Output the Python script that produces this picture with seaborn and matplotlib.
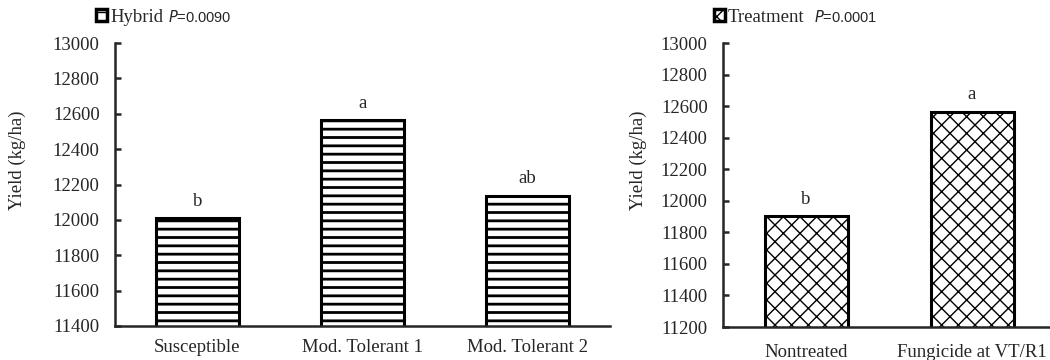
import matplotlib
matplotlib.use("Agg")
import matplotlib.pyplot as plt
from matplotlib.patches import Patch
import seaborn as sns
import pandas as pd

# data
hybrids = ["Susceptible", "Mod. Tolerant 1", "Mod. Tolerant 2"]
hybrid_yield = [12010, 12563, 12137]
hybrid_letters = ["b", "a", "ab"]

treatments = ["Nontreated", "Fungicide at VT/R1"]
treatment_yield = [11903, 12564]
treatment_letters = ["b", "a"]

sns.set_style("ticks")
plt.rcParams['font.family'] = ['Liberation Serif', 'DejaVu Serif']
plt.rcParams['hatch.color'] = 'black'
plt.rcParams['axes.linewidth'] = 1.8

W, H = 1050, 360
FS = 13.5
fig = plt.figure(figsize=(10.5, 3.6), dpi=100)


def px_axes(x0, x1, y_top, y_bot):
    return fig.add_axes([x0 / W, (H - y_bot) / H, (x1 - x0) / W, (y_bot - y_top) / H])


def draw_panel(ax, cats, vals, letters, hatch, hatch_lw, ylim, yticks,
               title, title_x, ylab_x, xpad):
    df = pd.DataFrame({"cat": cats, "val": vals})
    sns.barplot(data=df, x="cat", y="val", color="white", edgecolor="black",
                linewidth=2.2, width=0.5, ax=ax, saturation=1)
    for p in ax.patches:
        p.set_hatch(hatch)
        p.set_hatch_linewidth(hatch_lw)
    ax.set_ylim(*ylim)
    ax.set_xlim(-0.5, len(cats) - 0.5)
    ax.set_yticks(yticks)
    ax.tick_params(axis='y', direction='in', length=4, width=1.8, labelsize=FS, pad=11)
    ax.tick_params(axis='x', length=0, labelsize=FS, pad=xpad)
    ax.set_xlabel("")
    ax.set_ylabel("Yield (kg/ha)", fontsize=FS, va='center')
    ax.yaxis.set_label_coords(ylab_x / W, (H - 160) / H, transform=fig.transFigure)
    sns.despine(ax=ax)
    for i, (v, t) in enumerate(zip(vals, letters)):
        ax.annotate(t, (i, v), xytext=(0, 6), textcoords='offset points',
                    ha='center', va='bottom', fontsize=FS)
    # title shown as a one-entry legend with a small swatch
    swatch = Patch(facecolor='white', edgecolor='black', linewidth=2.5, hatch=hatch)
    ax.legend(handles=[swatch], labels=[title], loc='center left',
              bbox_to_anchor=(title_x / W, (H - 17) / H), bbox_transform=fig.transFigure,
              frameon=False, handlelength=0.6, handleheight=0.6, handletextpad=0.15,
              borderpad=0, borderaxespad=0, fontsize=FS)


ax1 = px_axes(115, 610, 43, 326)
draw_panel(ax1, hybrids, hybrid_yield, hybrid_letters, '--', 2.0,
           (11400, 13000), range(11400, 13001, 200), "Hybrid", 96, 17, 9)
fig.text(168 / W, (H - 17) / H, r"$\mathit{P}$=0.0090", family='Liberation Sans',
         fontsize=10.5, va='center', ha='left')

ax2 = px_axes(723, 1055, 43, 327)
draw_panel(ax2, treatments, treatment_yield, treatment_letters, 'xx', 1.0,
           (11200, 13000), range(11200, 13001, 200), "Treatment", 714, 638, 12)
fig.text(814 / W, (H - 17) / H, r"$\mathit{P}$=0.0001", family='Liberation Sans',
         fontsize=10.5, va='center', ha='left')

plt.savefig("out.png", dpi=100)
